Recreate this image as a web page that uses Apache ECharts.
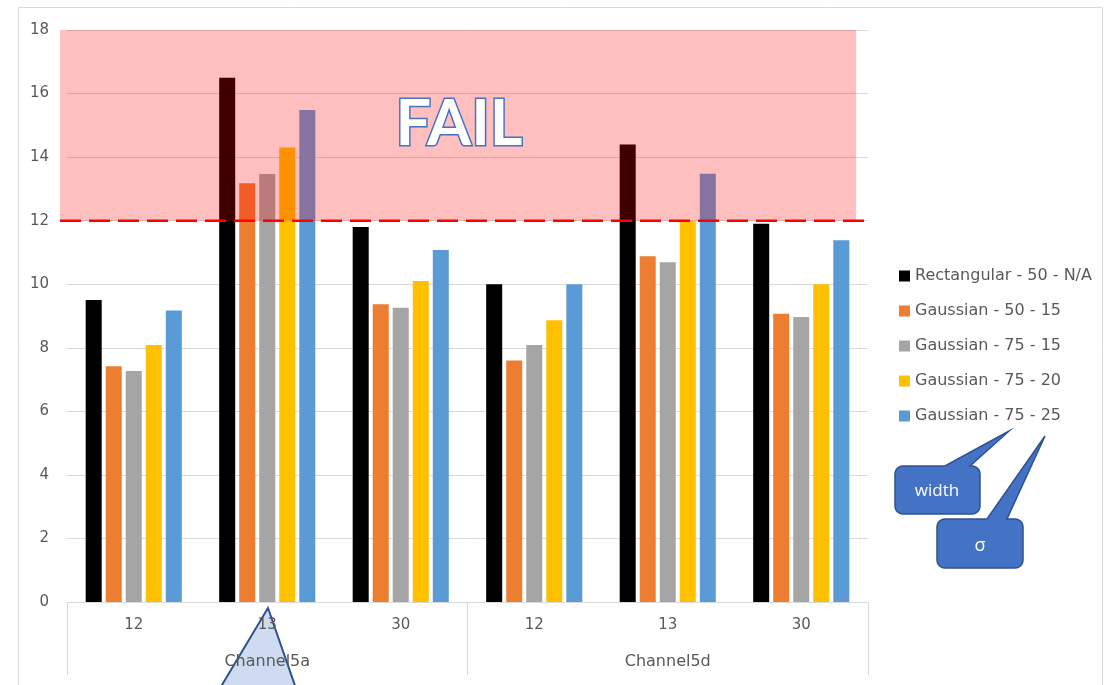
<!DOCTYPE html>
<html>
<head>
<meta charset="utf-8">
<script src="https://cdn.jsdelivr.net/npm/echarts@6/dist/echarts.min.js"></script>
<style>
  html, body { margin: 0; padding: 0; background: #fff; }
  #chart { width: 1109px; height: 685px; }
</style>
</head>
<body>
<div id="chart"></div>
<script>
// categories: filter bandwidth inside each channel
const groupLabels = ['Channel5a', 'Channel5d']
const bandLabels = ['12', '13', '30', '12', '13', '30']

const seriesNames = [
  'Rectangular - 50 - N/A',
  'Gaussian - 50 - 15',
  'Gaussian - 75 - 15',
  'Gaussian - 75 - 20',
  'Gaussian - 75 - 25'
]
const rectangular5050 = [9.5, 16.5, 11.8, 10.0, 14.4, 11.9]
const gaussian5015 = [7.42, 13.18, 9.37, 7.6, 10.88, 9.07]
const gaussian7515 = [7.27, 13.47, 9.26, 8.09, 10.69, 8.97]
const gaussian7520 = [8.09, 14.3, 10.1, 8.87, 12.0, 10.0]
const gaussian7525 = [9.17, 15.48, 11.08, 10.0, 13.48, 11.38]
const seriesValues = [rectangular5050, gaussian5015, gaussian7515, gaussian7520, gaussian7525]
const seriesColors = ['#000000', '#ED7D31', '#A5A5A5', '#FFC000', '#5B9BD5']

const yMin = 0
const yMax = 18
const yStep = 2
const failLimit = 12
const failLabel = 'FAIL'
const calloutLabels = ['width', 'σ']

const chart = echarts.init(document.getElementById('chart'))

const series = seriesNames.map((name, i) => ({
  name,
  type: 'bar',
  data: seriesValues[i],
  barGap: '25%',
  barCategoryGap: '28%',
  itemStyle: { color: seriesColors[i] }
}))

chart.setOption({
  animation: false,
  textStyle: { fontFamily: 'DejaVu Sans' },
  grid: { left: 67, right: 241, top: 30, bottom: 83 },
  legend: {
    orient: 'vertical',
    left: 899,
    top: 267,
    padding: 0,
    itemWidth: 11,
    itemHeight: 11,
    itemGap: 17,
    icon: 'rect',
    textStyle: { fontSize: 16, color: '#595959', lineHeight: 18, fontFamily: 'DejaVu Sans' },
    data: seriesNames
  },
  xAxis: [
    {
      type: 'category',
      data: bandLabels,
      z: 6,
      axisLine: { lineStyle: { color: '#d9d9d9', width: 1 } },
      axisTick: { show: false },
      axisLabel: { color: '#595959', fontSize: 15, margin: 16, interval: 0 }
    },
    {
      type: 'category',
      data: groupLabels,
      position: 'bottom',
      z: 6,
      axisLine: { show: false },
      axisTick: { show: true, length: 73, lineStyle: { color: '#d9d9d9' } },
      axisLabel: { color: '#595959', fontSize: 16, margin: 52, interval: 0 }
    }
  ],
  yAxis: {
    type: 'value',
    min: yMin,
    max: yMax,
    interval: yStep,
    axisLine: { show: false },
    axisTick: { show: false },
    axisLabel: { color: '#595959', fontSize: 15, margin: 18 },
    splitLine: { lineStyle: { color: '#d9d9d9', width: 1 } }
  },
  series
})

// annotation layer drawn on top of the bars
const yTop = chart.convertToPixel({ yAxisIndex: 0 }, yMax)
const yLimit = chart.convertToPixel({ yAxisIndex: 0 }, failLimit)

function calloutPoints(x, y, w, h, r, baseL, baseR, tip) {
  const pts = []
  const corner = (cx, cy, a0) => {
    for (let i = 0; i <= 6; i++) {
      const a = a0 + i * Math.PI / 12
      pts.push([cx + r * Math.cos(a), cy + r * Math.sin(a)])
    }
  }
  corner(x + r, y + r, Math.PI)
  pts.push([baseL, y], tip, [baseR, y])
  corner(x + w - r, y + r, 1.5 * Math.PI)
  corner(x + w - r, y + h - r, 0)
  corner(x + r, y + h - r, 0.5 * Math.PI)
  return pts
}

chart.setOption({
  graphic: [
    {
      type: 'rect',
      z: 0,
      silent: true,
      shape: { x: 18.5, y: 7.5, width: 1084, height: 700 },
      style: { fill: 'none', stroke: '#d9d9d9', lineWidth: 1 }
    },
    {
      type: 'rect',
      z: 3,
      silent: true,
      shape: { x: 60, y: yTop, width: 796, height: yLimit - yTop },
      style: { fill: 'rgba(255, 0, 0, 0.25)' }
    },
    {
      type: 'line',
      z: 4,
      silent: true,
      shape: { x1: 60, y1: yLimit, x2: 868, y2: yLimit },
      style: { stroke: '#ff0000', lineWidth: 2.5, lineDash: [21, 8] }
    },
    {
      type: 'text',
      z: 5,
      silent: true,
      style: {
        text: failLabel,
        x: 459,
        y: 125,
        align: 'center',
        verticalAlign: 'middle',
        font: 'bold 63px Lato',
        fill: '#ffffff',
        stroke: '#4472C4',
        lineWidth: 3,
        shadowBlur: 8,
        shadowColor: 'rgba(68, 114, 196, 0.7)'
      }
    },
    {
      type: 'polygon',
      z: 5,
      silent: true,
      shape: { points: calloutPoints(895, 466, 85, 48, 8, 945, 970, [1009, 431]) },
      style: { fill: '#4472C4', stroke: '#2F528F', lineWidth: 1.5 }
    },
    {
      type: 'text',
      z: 5,
      silent: true,
      style: {
        text: calloutLabels[0], x: 937, y: 491, align: 'center', verticalAlign: 'middle',
        font: '17px "Open Sans"', fill: '#ffffff'
      }
    },
    {
      type: 'polygon',
      z: 5,
      silent: true,
      shape: { points: calloutPoints(937, 519, 86, 49, 8, 987, 1007, [1045, 436]) },
      style: { fill: '#4472C4', stroke: '#2F528F', lineWidth: 1.5 }
    },
    {
      type: 'text',
      z: 5,
      silent: true,
      style: {
        text: calloutLabels[1], x: 980, y: 546, align: 'center', verticalAlign: 'middle',
        font: '18px "Open Sans"', fill: '#ffffff'
      }
    },
    {
      type: 'polygon',
      z: 5,
      silent: true,
      shape: { points: [[268, 608], [213, 700], [300, 700]] },
      style: { fill: 'rgba(190, 207, 236, 0.75)', stroke: '#2F528F', lineWidth: 2 }
    }
  ]
})
</script>
</body>
</html>
